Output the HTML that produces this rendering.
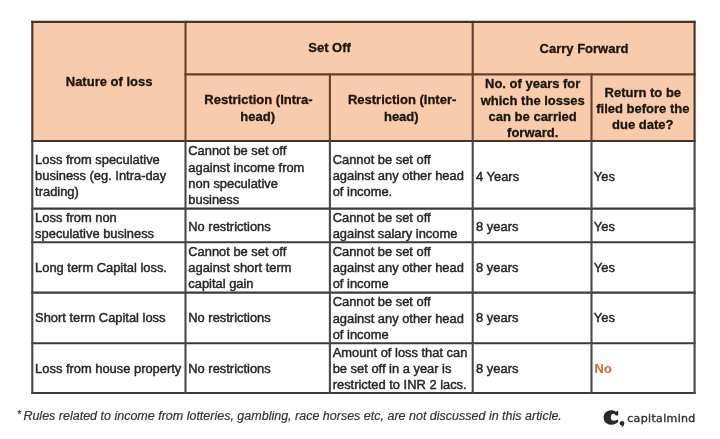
<!DOCTYPE html>
<html lang="en">
<head>
<meta charset="utf-8">
<title>Set off and carry forward of losses</title>
<style>
html,body{margin:0;padding:0;background:#fff;}
body{width:720px;height:439px;overflow:hidden;}
svg{display:block;}
text{font-family:"Liberation Sans",Arial,sans-serif;font-size:12.9px;fill:#262626;stroke:#262626;stroke-width:0.45px;}
.h{font-weight:bold;font-size:13.0px;fill:#1c130e;stroke:#1c130e;stroke-width:0.3px;text-anchor:middle;}
.no{font-weight:bold;fill:#c8723a;stroke:#c8723a;stroke-width:0.15px;}
.fn{font-style:italic;font-size:12.5px;fill:#333;stroke:#333;stroke-width:0.2px;}
.lg{font-family:"DejaVu Sans","Liberation Sans",sans-serif;font-size:11.0px;letter-spacing:0.35px;fill:#333;stroke:#333;stroke-width:0.4px;}
</style>
</head>
<body>
<svg width="720" height="439" viewBox="0 0 720 439">
<defs><filter id="soft" x="0" y="0" width="100%" height="100%" filterUnits="userSpaceOnUse"><feGaussianBlur stdDeviation="0.7"/></filter></defs>
<rect x="0" y="0" width="720" height="439" fill="#ffffff"/>
<g filter="url(#soft)">
<rect x="32.3" y="21.9" width="662.3" height="119.1" fill="#F8CBAD"/>
<g stroke-linecap="square">
<line x1="185.5" y1="74.4" x2="694.6" y2="74.4" stroke="#65412e" stroke-width="2.1"/>
<line x1="185.5" y1="21.9" x2="185.5" y2="141.0" stroke="#65412e" stroke-width="2.1"/>
<line x1="329.9" y1="74.4" x2="329.9" y2="141.0" stroke="#65412e" stroke-width="2.1"/>
<line x1="472.7" y1="21.9" x2="472.7" y2="141.0" stroke="#65412e" stroke-width="2.1"/>
<line x1="591.5" y1="74.4" x2="591.5" y2="141.0" stroke="#65412e" stroke-width="2.1"/>
<line x1="32.3" y1="141.0" x2="694.6" y2="141.0" stroke="#4b3126" stroke-width="2.1"/>
<line x1="32.3" y1="21.9" x2="694.6" y2="21.9" stroke="#4b3126" stroke-width="2.1"/>
<line x1="32.3" y1="21.9" x2="32.3" y2="141.0" stroke="#4b3126" stroke-width="2.1"/>
<line x1="694.6" y1="21.9" x2="694.6" y2="141.0" stroke="#4b3126" stroke-width="2.1"/>
<line x1="32.3" y1="208.6" x2="694.6" y2="208.6" stroke="#3a3a3a" stroke-width="2.1"/>
<line x1="32.3" y1="242.3" x2="694.6" y2="242.3" stroke="#3a3a3a" stroke-width="2.1"/>
<line x1="32.3" y1="292.6" x2="694.6" y2="292.6" stroke="#3a3a3a" stroke-width="2.1"/>
<line x1="32.3" y1="343.3" x2="694.6" y2="343.3" stroke="#3a3a3a" stroke-width="2.1"/>
<line x1="32.3" y1="393.0" x2="694.6" y2="393.0" stroke="#3a3a3a" stroke-width="2.1"/>
<line x1="32.3" y1="141.0" x2="32.3" y2="393.0" stroke="#484848" stroke-width="2.1"/>
<line x1="185.5" y1="141.0" x2="185.5" y2="393.0" stroke="#484848" stroke-width="2.1"/>
<line x1="329.9" y1="141.0" x2="329.9" y2="393.0" stroke="#484848" stroke-width="2.1"/>
<line x1="472.7" y1="141.0" x2="472.7" y2="393.0" stroke="#484848" stroke-width="2.1"/>
<line x1="591.5" y1="141.0" x2="591.5" y2="393.0" stroke="#484848" stroke-width="2.1"/>
<line x1="694.6" y1="141.0" x2="694.6" y2="393.0" stroke="#484848" stroke-width="2.1"/>
</g>
<text class="h" x="109.1" y="85.8">Nature of loss</text>
<text class="h" x="329.6" y="52.4">Set Off</text>
<text class="h" x="584.0" y="52.8">Carry Forward</text>
<text class="h" x="258.5" y="104.2">Restriction (Intra-</text>
<text class="h" x="257.7" y="120.7">head)</text>
<text class="h" x="402.1" y="104.2">Restriction (Inter-</text>
<text class="h" x="401.3" y="120.7">head)</text>
<text class="h" x="532.7" y="88.0">No. of years for</text>
<text class="h" x="532.7" y="104.5">which the losses</text>
<text class="h" x="532.7" y="121.0">can be carried</text>
<text class="h" x="532.7" y="137.4">forward.</text>
<text class="h" x="642.8" y="96.6">Return to be</text>
<text class="h" x="642.8" y="112.8">filed before the</text>
<text class="h" x="642.8" y="129.0">due date?</text>
<text x="35.1" y="163.6">Loss from speculative</text>
<text x="35.1" y="179.9">business (eg. Intra-day</text>
<text x="35.1" y="196.2">trading)</text>
<text x="188.3" y="155.0">Cannot be set off</text>
<text x="188.3" y="171.6">against income from</text>
<text x="188.3" y="188.2">non speculative</text>
<text x="188.3" y="204.4">business</text>
<text x="332.7" y="163.6">Cannot be set off</text>
<text x="332.7" y="180.0">against any other head</text>
<text x="332.7" y="196.2">of income.</text>
<text x="476.1" y="180.6">4 Years</text>
<text x="593.8" y="180.6">Yes</text>
<text x="35.1" y="222.0">Loss from non</text>
<text x="35.1" y="238.0">speculative business</text>
<text x="188.3" y="230.5">No restrictions</text>
<text x="332.7" y="222.0">Cannot be set off</text>
<text x="332.7" y="238.0">against salary income</text>
<text x="476.1" y="230.6">8 years</text>
<text x="593.8" y="230.6">Yes</text>
<text x="35.1" y="272.3">Long term Capital loss.</text>
<text x="188.3" y="256.3">Cannot be set off</text>
<text x="188.3" y="272.3">against short term</text>
<text x="188.3" y="288.4">capital gain</text>
<text x="332.7" y="256.3">Cannot be set off</text>
<text x="332.7" y="272.3">against any other head</text>
<text x="332.7" y="288.4">of income</text>
<text x="476.1" y="272.3">8 years</text>
<text x="593.8" y="272.3">Yes</text>
<text x="35.1" y="322.4">Short term Capital loss</text>
<text x="188.3" y="322.4">No restrictions</text>
<text x="332.7" y="306.4">Cannot be set off</text>
<text x="332.7" y="322.6">against any other head</text>
<text x="332.7" y="339.0">of income</text>
<text x="476.1" y="322.4">8 years</text>
<text x="593.8" y="322.4">Yes</text>
<text x="35.1" y="372.9">Loss from house property</text>
<text x="188.3" y="372.9">No restrictions</text>
<text x="332.7" y="356.5">Amount of loss that can</text>
<text x="332.7" y="372.6">be set off in a year is</text>
<text x="332.7" y="388.8">restricted to INR 2 lacs.</text>
<text x="476.1" y="372.9">8 years</text>
<text class="no" x="594.6" y="373.0">No</text>
<text class="fn" x="23.4" y="419.5"><tspan x="16.9" y="417.6" font-size="10.5">*</tspan><tspan x="23.4" y="419.5">Rules related to income from lotteries, gambling, race horses etc, are not discussed in this article.</tspan></text>
<g fill="#2b2b2b">
<path d="M618.2 410.9 L618.2 415.5 L615.7 415.5 C615.1 414.3 614.3 413.8 613.4 413.8 C611.6 413.8 610.8 415.5 610.8 417.2 C610.8 419.3 611.8 420.7 613.7 420.7 C615.4 420.7 616.6 420.1 617.6 419.6 L618.5 421.6 C617.0 423.6 614.5 424.7 611.6 424.7 C606.8 424.7 603.6 421.7 603.6 417.4 C603.6 413.2 606.8 410.2 611.3 410.2 C613.4 410.2 615.0 410.8 616.1 411.7 L616.9 410.9 Z"/>
<circle cx="622.0" cy="423.3" r="2.3"/>
<path d="M624.2 423.8 C624.3 425.5 623.0 426.7 621.2 427.3 C622.2 426.4 622.4 425.6 622.0 424.6 Z"/>
</g>
<text class="lg" x="627.2" y="421.8">capitalmind</text>
</g>
</svg>
</body>
</html>
